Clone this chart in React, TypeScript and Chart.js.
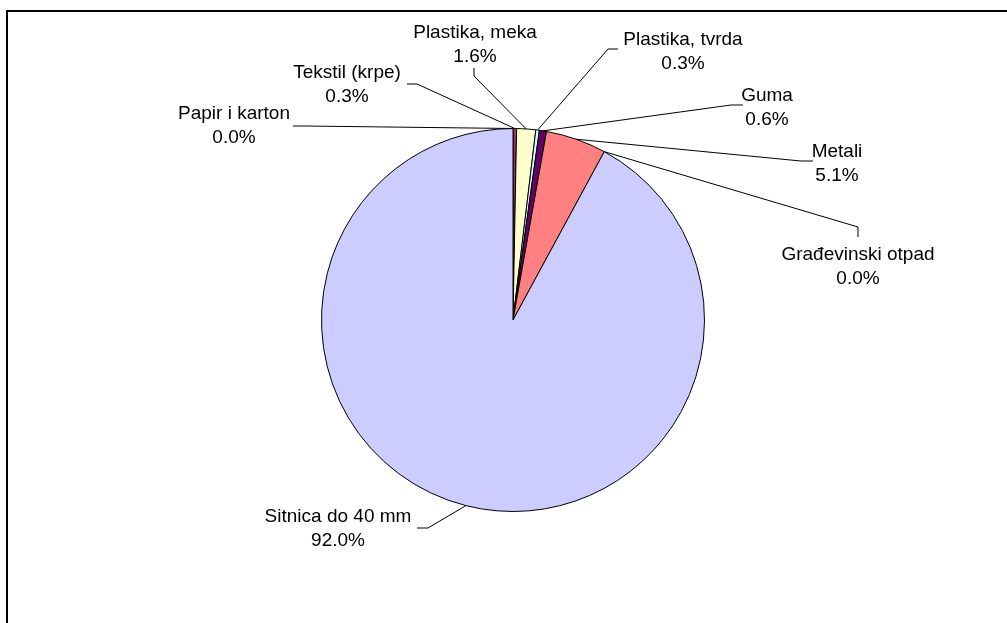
import React, { useEffect, useRef } from "react";
import { Chart, registerables } from "chart.js";

Chart.register(...registerables);

const categories = [
  "Papir i karton",
  "Tekstil (krpe)",
  "Plastika, meka",
  "Plastika, tvrda",
  "Guma",
  "Metali",
  "Građevinski otpad",
  "Sitnica do 40 mm",
];
const shares = [0.0, 0.3, 1.6, 0.3, 0.6, 5.1, 0.0, 92.0];
const colors = ["#9999FF", "#993366", "#FFFFCC", "#CCFFFF", "#660066", "#FF8080", "#0066CC", "#CCCCFF"];

// label layout: text block center (x, y of first line), leader start & elbow
const labelLayout = [
  { tx: 234, ty: 114, p0: [293, 126], p1: [305, 126] },
  { tx: 347, ty: 73, p0: [407, 84], p1: [417, 84] },
  { tx: 475, ty: 33, p0: [474, 68], p1: [474, 76] },
  { tx: 683, ty: 40, p0: [618, 49], p1: [608, 49] },
  { tx: 767, ty: 96, p0: [743, 105], p1: [731, 105] },
  { tx: 837, ty: 152, p0: [813, 161], p1: [801, 161] },
  { tx: 858, ty: 255, p0: [858, 237], p1: [858, 227] },
  { tx: 338, ty: 517, p0: [417, 528], p1: [428, 528] },
];

const labelPlugin = {
  id: "excelLabels",
  beforeDraw(chart: any) {
    const ctx = chart.ctx;
    ctx.save();
    ctx.fillStyle = "#fff";
    ctx.fillRect(0, 0, chart.width, chart.height);
    ctx.strokeStyle = "#000";
    ctx.lineWidth = 2;
    ctx.strokeRect(7, 11, 1100, 800);
    ctx.restore();
  },
  afterDraw(chart: any) {
    const ctx = chart.ctx;
    const meta = chart.getDatasetMeta(0);
    ctx.save();
    ctx.font = "19px 'Liberation Sans', Arial, sans-serif";
    ctx.textAlign = "center";
    ctx.textBaseline = "middle";
    meta.data.forEach((arc: any, i: number) => {
      const lay = labelLayout[i];
      const mid = (arc.startAngle + arc.endAngle) / 2;
      const ax = arc.x + Math.cos(mid) * arc.outerRadius;
      const ay = arc.y + Math.sin(mid) * arc.outerRadius;
      ctx.strokeStyle = "#000";
      ctx.lineWidth = 1;
      ctx.beginPath();
      ctx.moveTo(lay.p0[0], lay.p0[1]);
      ctx.lineTo(lay.p1[0], lay.p1[1]);
      ctx.lineTo(ax, ay);
      ctx.stroke();
      ctx.fillStyle = "#000";
      ctx.fillText(categories[i], lay.tx, lay.ty);
      ctx.fillText(shares[i].toFixed(1) + "%", lay.tx, lay.ty + 24);
    });
    ctx.restore();
  },
};

export default function App() {
  const ref = useRef<HTMLCanvasElement>(null);
  useEffect(() => {
    const chart = new Chart(ref.current!, {
      type: "pie",
      data: {
        labels: categories,
        datasets: [
          {
            data: shares,
            backgroundColor: colors,
            borderColor: "#000",
            borderWidth: 1,
          },
        ],
      },
      options: {
        responsive: false,
        animation: false,
        layout: { padding: { left: 321, right: 302, top: 128, bottom: 111 } },
        plugins: { legend: { display: false }, tooltip: { enabled: false } },
      },
      plugins: [labelPlugin],
    });
    return () => chart.destroy();
  }, []);
  return (
    <div style={{ position: "fixed", left: 0, top: 0, width: 1007, height: 623, background: "#fff" }}>
      <canvas ref={ref} width={1007} height={623} style={{ display: "block" }} />
    </div>
  );
}
